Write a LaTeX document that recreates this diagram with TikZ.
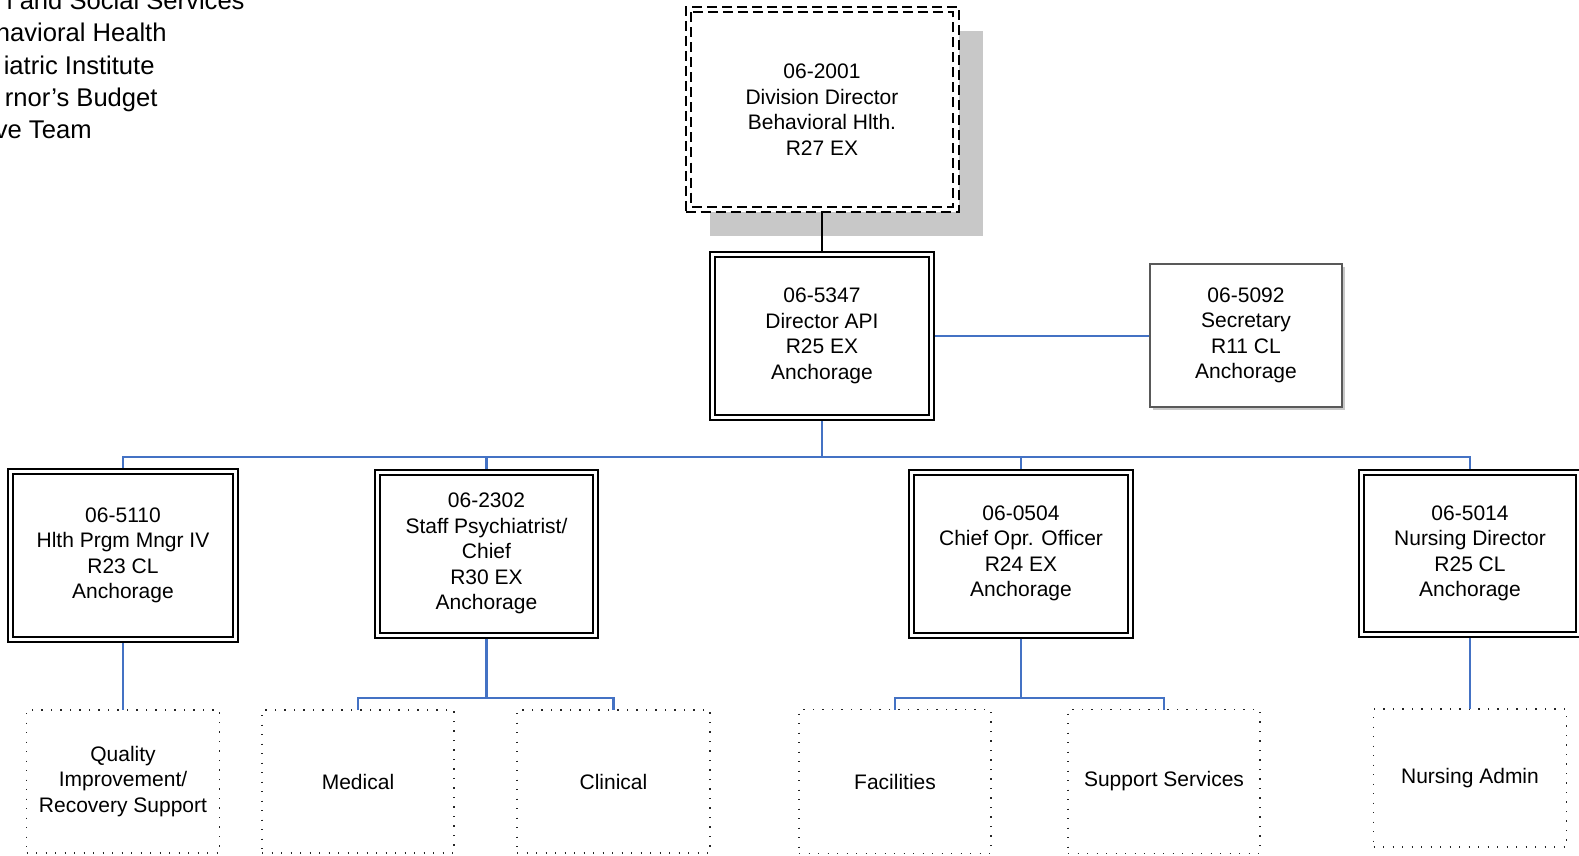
\documentclass[tikz,border=0pt]{standalone}
\usepackage{fontspec}
\setmainfont{Liberation Sans}
\usetikzlibrary{shadows}
\definecolor{apiblue}{RGB}{68,114,196}
\definecolor{shadowgray}{RGB}{200,200,200}
\tikzset{
  base/.style={align=center, font=\fontsize{10.5pt}{12.75pt}\selectfont, inner sep=0pt, text=black},
  dblbox/.style={base, draw=black, line width=1pt, double=white, double distance=1.5pt, fill=white, outer sep=1.75pt},
  secbox/.style={base, draw=black!65, line width=0.6pt, fill=white, outer sep=0.3pt,
     drop shadow={shadow xshift=1.5pt, shadow yshift=-1.5pt, fill=shadowgray, opacity=1}},
  dotbox/.style={base, draw=black!85, line width=0.7pt, dash pattern=on 0.7pt off 4.05pt, outer sep=0pt},
  dirline/.style={draw=black, line width=1pt, dash pattern=on 5pt off 2.5pt},
  dirbox/.style={base, dirline, fill=white, outer sep=0pt,
     drop shadow={shadow xshift=12pt, shadow yshift=-12pt, fill=shadowgray, opacity=1}},
  conn/.style={draw=apiblue, line width=1.1pt},
  blackconn/.style={draw=black, line width=0.75pt},
  headtext/.style={anchor=base east, inner sep=0pt, font=\fontsize{12.8pt}{16pt}\selectfont}
}
\begin{document}
\begin{tikzpicture}[x=0.5pt,y=-0.5pt]
\useasboundingbox (0,0) rectangle (1579,856);
\clip (0,0) rectangle (1579,856);
\fill[white] (0,0) rectangle (1579,856);

% header text (cut off at the left edge, as in the reference)
\node[headtext] (h1) at (245,10) {l and Social Services};
\node[headtext] (h2) at (167,42) {havioral Health};
\node[headtext] (h3) at (155,74.5) {iatric Institute};
\node[headtext] (h4) at (158,107) {rnor’s Budget};
\node[headtext] (h5) at (92,139) {ve Team};

% top box
\node[dirbox, minimum width=136.5pt, minimum height=102.5pt] (dir) at (822,109.5)
  {06-2001\\Division Director\\Behavioral Hlth.\\R27 EX};
\draw[dirline] ([xshift=2.75pt,yshift=-2.75pt]dir.north west) rectangle ([xshift=-2.75pt,yshift=2.75pt]dir.south east);

% second level
\node[dblbox, minimum width=109.25pt, minimum height=81.5pt] (api) at (822,336)
  {06-5347\\Director API\\R25 EX\\Anchorage};
\node[secbox, minimum width=96pt, minimum height=71.5pt] (sec) at (1246,335.5)
  {06-5092\\Secretary\\R11 CL\\Anchorage};

% third level
\node[dblbox, minimum width=112.5pt, minimum height=84pt] (hlth) at (123,555.5)
  {06-5110\\Hlth Prgm Mngr IV\\R23 CL\\Anchorage};
\node[dblbox, minimum width=109pt, minimum height=81.25pt] (psych) at (486.5,553.75)
  {06-2302\\Staff Psychiatrist/\\Chief\\R30 EX\\Anchorage};
\node[dblbox, minimum width=109.5pt, minimum height=81.5pt] (coo) at (1021,553.5)
  {06-0504\\Chief Opr. Officer\\R24 EX\\Anchorage};
\node[dblbox, minimum width=108.5pt, minimum height=81.25pt] (nurs) at (1470,553.25)
  {06-5014\\Nursing Director\\R25 CL\\Anchorage};

% units
\node[dotbox, minimum width=96.5pt, minimum height=71.5pt] (qi) at (123,781.5)
  {Quality\\Improvement/\\Recovery Support};
\node[dotbox, minimum width=96pt, minimum height=71.5pt] (med) at (358,781.5) {Medical};
\node[dotbox, minimum width=96.5pt, minimum height=71.5pt] (clin) at (613.5,781.5) {Clinical};
\node[dotbox, minimum width=96pt, minimum height=72pt] (fac) at (895,781.5) {Facilities};
\node[dotbox, minimum width=96pt, minimum height=72pt] (sup) at (1164,781.5) {Support Services};
\node[dotbox, minimum width=96.5pt, minimum height=69pt] (nadm) at (1470,778) {Nursing Admin};

% connectors
\coordinate (busy) at (0,457);
\coordinate (suby) at (0,698);
\draw[blackconn] (dir.south) -- (api.north);
\draw[conn] (api.east) -- (sec.west |- api.east);
\draw[conn] (api.south) -- (api.south |- busy);
\draw[conn] (hlth.north) |- (nurs.north |- busy) -- (nurs.north);
\draw[conn] (psych.north |- busy) -- (psych.north);
\draw[conn] (coo.north |- busy) -- (coo.north);
\draw[conn] (hlth.south) -- (qi.north);
\draw[conn] (psych.south) -- (psych.south |- suby);
\draw[conn] (med.north) |- (clin.north |- suby) -- (clin.north);
\draw[conn] (coo.south) -- (coo.south |- suby);
\draw[conn] (fac.north) |- (sup.north |- suby) -- (sup.north);
\draw[conn] (nurs.south) -- (nadm.north);
\end{tikzpicture}
\end{document}
